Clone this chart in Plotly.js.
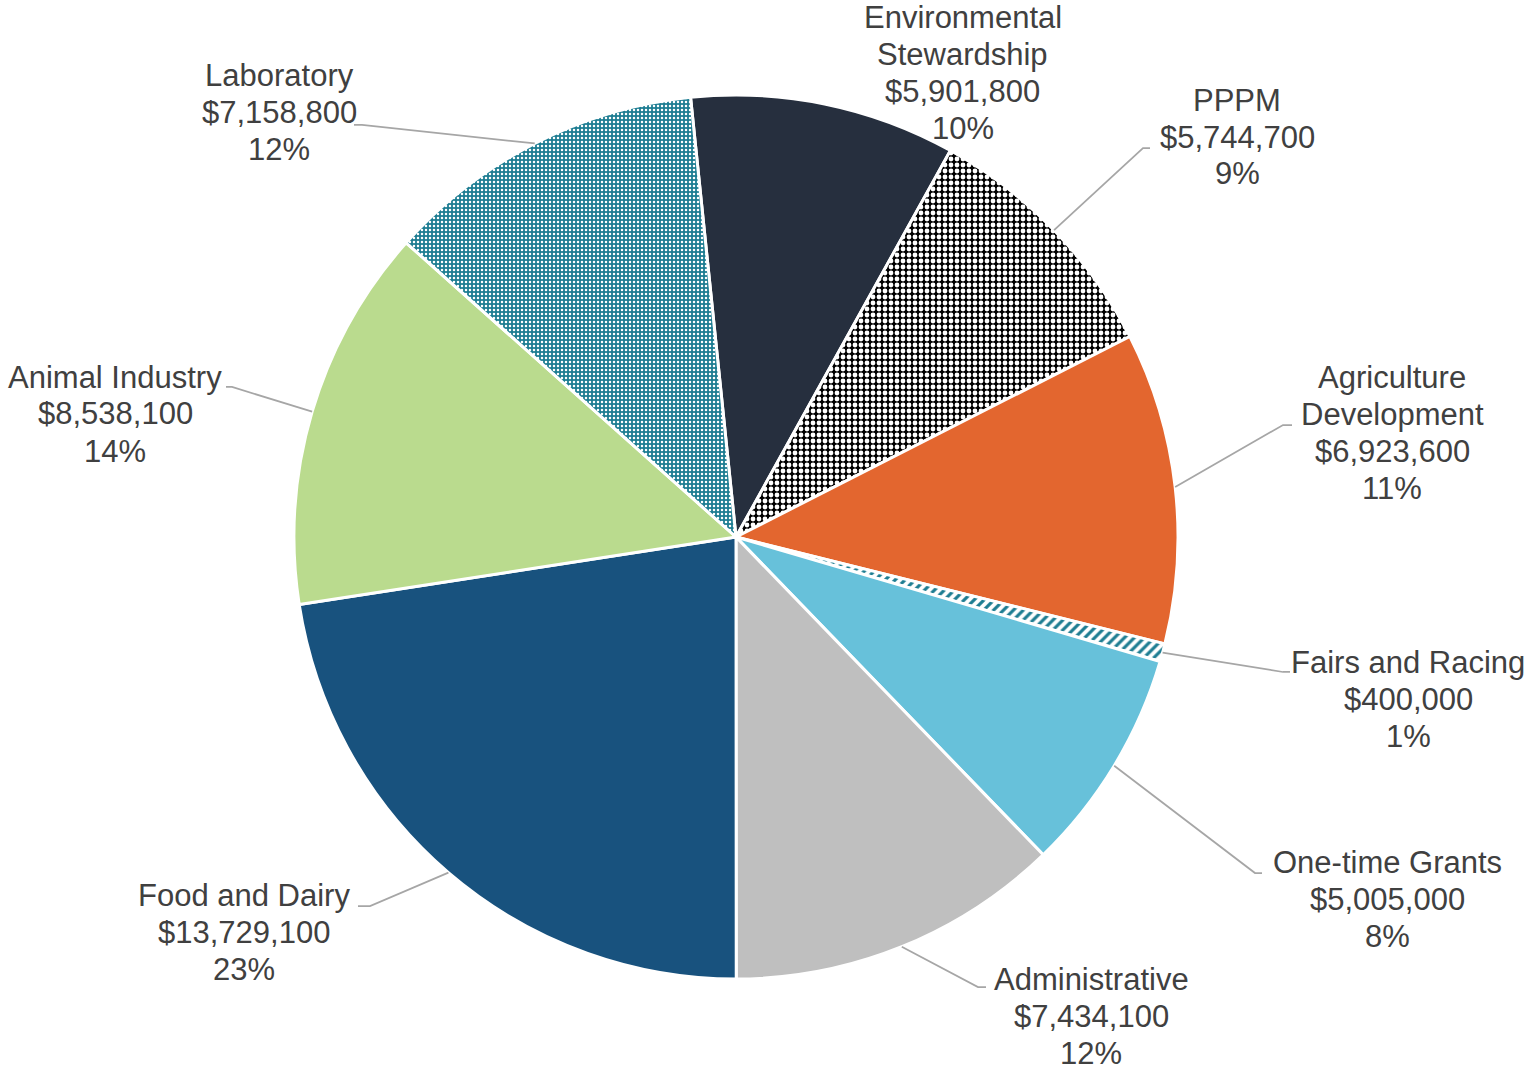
<!DOCTYPE html>
<html>
<head>
<meta charset="utf-8">
<script src="https://cdn.plot.ly/plotly-3.0.1.min.js"></script>
<style>html,body{margin:0;padding:0;background:#fff;}#chart{width:1528px;height:1071px;}</style>
</head>
<body>
<div id="chart"></div>
<script>
// ---- data ----
const categories = ["Environmental Stewardship", "PPPM", "Agriculture Development", "Fairs and Racing",
  "One-time Grants", "Administrative", "Food and Dairy", "Animal Industry", "Laboratory"];
const nameLines = [["Environmental", "Stewardship"], ["PPPM"], ["Agriculture", "Development"], ["Fairs and Racing"],
  ["One-time Grants"], ["Administrative"], ["Food and Dairy"], ["Animal Industry"], ["Laboratory"]];
const amounts = [5901800, 5744700, 6923600, 400000, 5005000, 7434100, 13729100, 8538100, 7158800];

// ---- styles ----
const colors = ["#262f3e", "#111111", "#e3662f", "#ffffff", "#67c1da", "#bfbfbf", "#18527e", "#badb8e", "#1d7d92"];
const shapesPat = ["", ".", "", "/", "", "", "", "", "."];
const fgPat = ["", "#ffffff", "", "#1d7d92", "", "", "", "", "#ffffff"];
const bgPat = ["", "#000000", "", "#ffffff", "", "", "", "", "#1d7d92"];
const sizePat = [8, 6, 8, 7, 8, 8, 8, 8, 4];
const solPat = [0.3, 0.5, 0.3, 0.45, 0.3, 0.3, 0.3, 0.3, 0.3];

// label block centres (pixels) and elbow points for leader lines
const labelPos = [[963, 73], [1237, 137], [1392, 433], [1408, 699], [1387, 899], [1091, 1016], [244, 932], [115, 414], [279, 113]];
const elbow = [null, [1143, 148], [1283, 425], [1283, 672], [1255, 873], [978, 987], [370, 906], [232, 387], [362, 125]];
const elbowEnd = [null, [1150, 148], [1292, 425], [1290, 672], [1262, 873], [986, 987], [358, 906], [226, 387], [354, 125]];

const W = 1528, H = 1071;
const cx = 736, cy = 537, R = 442;
const rotation = -5.9;
const lineGap = 37;

const total = amounts.reduce((a, b) => a + b, 0);
const fmt = v => "$" + v.toLocaleString("en-US");

const annotations = [];
const shapes = [];
let cum = 0;
amounts.forEach((v, i) => {
  const mid = rotation + (cum + v / 2) / total * 360;
  cum += v;
  const pct = Math.round(v / total * 100);
  const lines = nameLines[i].concat([fmt(v), pct + "%"]);
  lines.forEach((t, k) => {
    const y = labelPos[i][1] + (k - (lines.length - 1) / 2) * lineGap;
    annotations.push({
      xref: "paper", yref: "paper",
      x: labelPos[i][0] / W, y: 1 - y / H,
      xanchor: "center", yanchor: "middle",
      text: t, showarrow: false, borderpad: 0,
      font: {family: "'Liberation Sans', Arial, sans-serif", size: 31, color: "#404040"}
    });
  });
  if (elbow[i]) {
    const a = mid * Math.PI / 180;
    const ex = cx + R * Math.sin(a), ey = cy - R * Math.cos(a);
    const p = [[ex, ey], elbow[i], elbowEnd[i]].map(q => (q[0] / W).toFixed(5) + "," + (1 - q[1] / H).toFixed(5));
    shapes.push({
      type: "path", xref: "paper", yref: "paper",
      path: "M" + p[0] + " L" + p[1] + " L" + p[2],
      line: {color: "#a6a6a6", width: 1.75}
    });
  }
});

const trace = {
  type: "pie",
  labels: categories,
  values: amounts,
  sort: false,
  direction: "clockwise",
  rotation: rotation,
  textinfo: "none",
  hoverinfo: "skip",
  showlegend: false,
  domain: {x: [(cx - R) / W, (cx + R) / W], y: [1 - (cy + R) / H, 1 - (cy - R) / H]},
  marker: {
    colors: colors,
    line: {color: "#ffffff", width: 3},
    pattern: {shape: shapesPat, fgcolor: fgPat, bgcolor: bgPat, size: sizePat, solidity: solPat, fillmode: "replace"}
  }
};

const layout = {
  width: W, height: H,
  margin: {l: 0, r: 0, t: 0, b: 0},
  paper_bgcolor: "#ffffff",
  font: {family: "'Liberation Sans', Arial, sans-serif"},
  showlegend: false,
  annotations: annotations,
  shapes: shapes
};

Plotly.newPlot("chart", [trace], layout, {displayModeBar: false, staticPlot: true});
</script>
</body>
</html>
